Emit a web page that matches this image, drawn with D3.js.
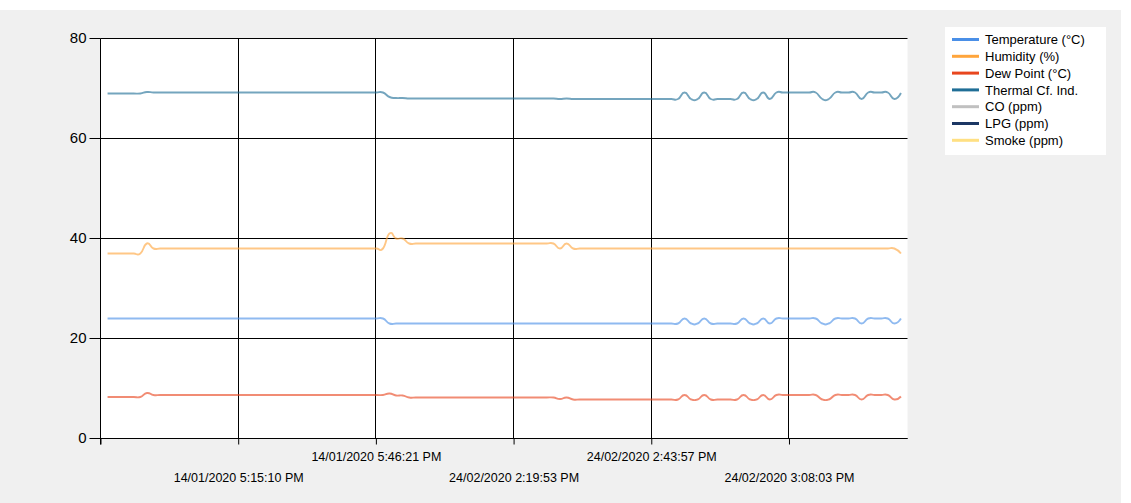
<!DOCTYPE html>
<html><head><meta charset="utf-8">
<script src="https://cdn.jsdelivr.net/npm/d3@7"></script>
<style>
html,body{margin:0;padding:0;background:#ffffff;}
svg{display:block;}
text{font-family:"Liberation Sans",Arial,sans-serif;fill:#000;}
</style></head>
<body><svg id="chart" width="1131" height="503"></svg>
<script>
// ---- data (index 1..122, x values are sample timestamps shown at tick positions) ----
const seriesNames = ["Temperature (°C)","Humidity (%)","Dew Point (°C)","Thermal Cf. Ind.","CO (ppm)","LPG (ppm)","Smoke (ppm)"];
const seriesColors = ["#4a8fe7","#ffa53c","#e8461e","#1f6e96","#c0c0c0","#1c3764","#ffe083"];

const temperature = [
24,24,24,24,24,24,24,24,24,24,
24,24,24,24,24,24,24,24,24,24,
24,24,24,24,24,24,24,24,24,24,
24,24,24,24,24,24,24,24,24,24,
24,24,24,23,23,23,23,23,23,23,
23,23,23,23,23,23,23,23,23,23,
23,23,23,23,23,23,23,23,23,23,
23,23,23,23,23,23,23,23,23,23,
23,23,23,23,23,23,23,23,24,23,
23,24,23,23,23,23,23,24,23,23,
24,23,24,24,24,24,24,24,24,23,
23,24,24,24,24,23,24,24,24,24,
23,24];

const humidity = [
37,37,37,37,37,37,39,38,38,38,
38,38,38,38,38,38,38,38,38,38,
38,38,38,38,38,38,38,38,38,38,
38,38,38,38,38,38,38,38,38,38,
38,38,38,41,40,40,39,39,39,39,
39,39,39,39,39,39,39,39,39,39,
39,39,39,39,39,39,39,39,39,38,
39,38,38,38,38,38,38,38,38,38,
38,38,38,38,38,38,38,38,38,38,
38,38,38,38,38,38,38,38,38,38,
38,38,38,38,38,38,38,38,38,38,
38,38,38,38,38,38,38,38,38,38,
38,37];

const dewPoint = [
8.3,8.3,8.3,8.3,8.3,8.3,9.1,8.7,8.7,8.7,
8.7,8.7,8.7,8.7,8.7,8.7,8.7,8.7,8.7,8.7,
8.7,8.7,8.7,8.7,8.7,8.7,8.7,8.7,8.7,8.7,
8.7,8.7,8.7,8.7,8.7,8.7,8.7,8.7,8.7,8.7,
8.7,8.7,8.7,9.0,8.6,8.6,8.2,8.2,8.2,8.2,
8.2,8.2,8.2,8.2,8.2,8.2,8.2,8.2,8.2,8.2,
8.2,8.2,8.2,8.2,8.2,8.2,8.2,8.2,8.2,7.9,
8.2,7.8,7.8,7.8,7.8,7.8,7.8,7.8,7.8,7.8,
7.8,7.8,7.8,7.8,7.8,7.8,7.8,7.8,8.7,7.8,
7.8,8.7,7.8,7.8,7.8,7.8,7.8,8.7,7.8,7.8,
8.7,7.8,8.7,8.7,8.7,8.7,8.7,8.7,8.7,7.8,
7.8,8.7,8.7,8.7,8.7,7.8,8.7,8.7,8.7,8.7,
7.8,8.4];

const thermalIndex = [
69.0,69.0,69.0,69.0,69.0,69.0,69.3,69.2,69.2,69.2,
69.2,69.2,69.2,69.2,69.2,69.2,69.2,69.2,69.2,69.2,
69.2,69.2,69.2,69.2,69.2,69.2,69.2,69.2,69.2,69.2,
69.2,69.2,69.2,69.2,69.2,69.2,69.2,69.2,69.2,69.2,
69.2,69.2,69.2,68.3,68.1,68.1,68.0,68.0,68.0,68.0,
68.0,68.0,68.0,68.0,68.0,68.0,68.0,68.0,68.0,68.0,
68.0,68.0,68.0,68.0,68.0,68.0,68.0,68.0,68.0,67.9,
68.0,67.9,67.9,67.9,67.9,67.9,67.9,67.9,67.9,67.9,
67.9,67.9,67.9,67.9,67.9,67.9,67.9,67.9,69.2,67.9,
67.9,69.2,67.9,67.9,67.9,67.9,67.9,69.2,67.9,67.9,
69.2,67.9,69.2,69.2,69.2,69.2,69.2,69.2,69.2,67.9,
67.9,69.2,69.2,69.2,69.2,67.9,69.2,69.2,69.2,69.2,
67.9,69.1];

const co = [];
const lpg = [];
const smoke = [];

const xTickIndex = [0,21,42,63,84,105];
const xTickLabels = ["","14/01/2020 5:15:10 PM","14/01/2020 5:46:21 PM","24/02/2020 2:19:53 PM","24/02/2020 2:43:57 PM","24/02/2020 3:08:03 PM"];
const yTicks = [0,20,40,60,80];

// ---- drawing ----
const seriesData = [temperature, humidity, dewPoint, thermalIndex, co, lpg, smoke];
const svg = d3.select("#chart");
svg.append("rect").attr("x",0).attr("y",10).attr("width",1121).attr("height",493).attr("fill","#f0f0f0");

const L = 101, R = 907.5, T = 38.5, B = 438.5;
const nPts = temperature.length;
const x = d3.scaleLinear().domain([0, nPts + 1]).range([L, R]);
const y = d3.scaleLinear().domain([0, 80]).range([B, T]);

svg.append("rect").attr("x",L).attr("y",T).attr("width",R-L).attr("height",B-T).attr("fill","#ffffff");

const crisp = v => Math.round(v) + 0.5;

// gridlines
const g = svg.append("g");
g.selectAll("line.hg").data(yTicks).join("line")
  .attr("x1",L).attr("x2",R)
  .attr("y1",d=>crisp(y(d))-1).attr("y2",d=>crisp(y(d))-1)
  .attr("stroke","#000").attr("stroke-width",1);
g.selectAll("line.vg").data(xTickIndex).join("line")
  .attr("x1",d=>crisp(x(d))-1).attr("x2",d=>crisp(x(d))-1)
  .attr("y1",T).attr("y2",B)
  .attr("stroke","#000").attr("stroke-width",1);

// series
svg.append("clipPath").attr("id","clip").append("rect")
  .attr("x",L).attr("y",T-2).attr("width",R-L).attr("height",B-T+2);
const line = d3.line()
  .x((d,i)=>x(i+1)).y(d=>y(d))
  .curve(d3.curveCardinal.tension(-0.6));
const sg = svg.append("g").attr("clip-path","url(#clip)");
seriesData.forEach((arr,k)=>{
  if(!arr.length) return;
  sg.append("path").datum(arr).attr("d",line)
    .attr("fill","none").attr("stroke",seriesColors[k])
    .attr("stroke-width",1.9).attr("stroke-opacity",0.62)
    .attr("stroke-linejoin","round");
});

// axes
const yAxis = d3.axisLeft(y).tickValues(yTicks).tickSize(11).tickPadding(3).tickSizeOuter(0);
const ya = svg.append("g").attr("transform",`translate(${crisp(L)-1},-0.5)`).call(yAxis);
ya.select(".domain").remove();
ya.selectAll(".tick line").attr("stroke","#000");
ya.selectAll("text").style("font-size","15px").attr("fill","#000");

const xAxis = d3.axisBottom(x).tickValues(xTickIndex).tickSize(6).tickSizeOuter(0)
  .tickFormat((d,i)=>xTickLabels[i]);
const xa = svg.append("g").attr("transform",`translate(-0.5,${crisp(B)-1})`).call(xAxis);
xa.select(".domain").remove();
xa.selectAll(".tick line").attr("stroke","#000");
xa.selectAll("text").style("font-size","12.5px").attr("fill","#000")
  .attr("dy",null)
  .attr("y",(d,i)=> (i%2===0) ? 22 : 43.5);

// axis lines
svg.append("line").attr("x1",crisp(L)-1).attr("x2",crisp(L)-1).attr("y1",T).attr("y2",crisp(B)+5).attr("stroke","#000");
svg.append("line").attr("x1",L-11).attr("x2",R).attr("y1",crisp(B)-1).attr("y2",crisp(B)-1).attr("stroke","#000");

// legend
const lg = svg.append("g");
lg.append("rect").attr("x",945).attr("y",27).attr("width",161).attr("height",128).attr("fill","#ffffff");
const items = lg.selectAll("g.it").data(seriesNames).join("g")
  .attr("transform",(d,i)=>`translate(0,${39.5 + i*16.8})`);
items.append("line").attr("x1",952).attr("x2",979).attr("y1",0).attr("y2",0)
  .attr("stroke",(d,i)=>seriesColors[i]).attr("stroke-width",3);
items.append("text").attr("x",985).attr("y",0).attr("dy","0.36em")
  .style("font-size","13px").text(d=>d);
</script></body></html>
